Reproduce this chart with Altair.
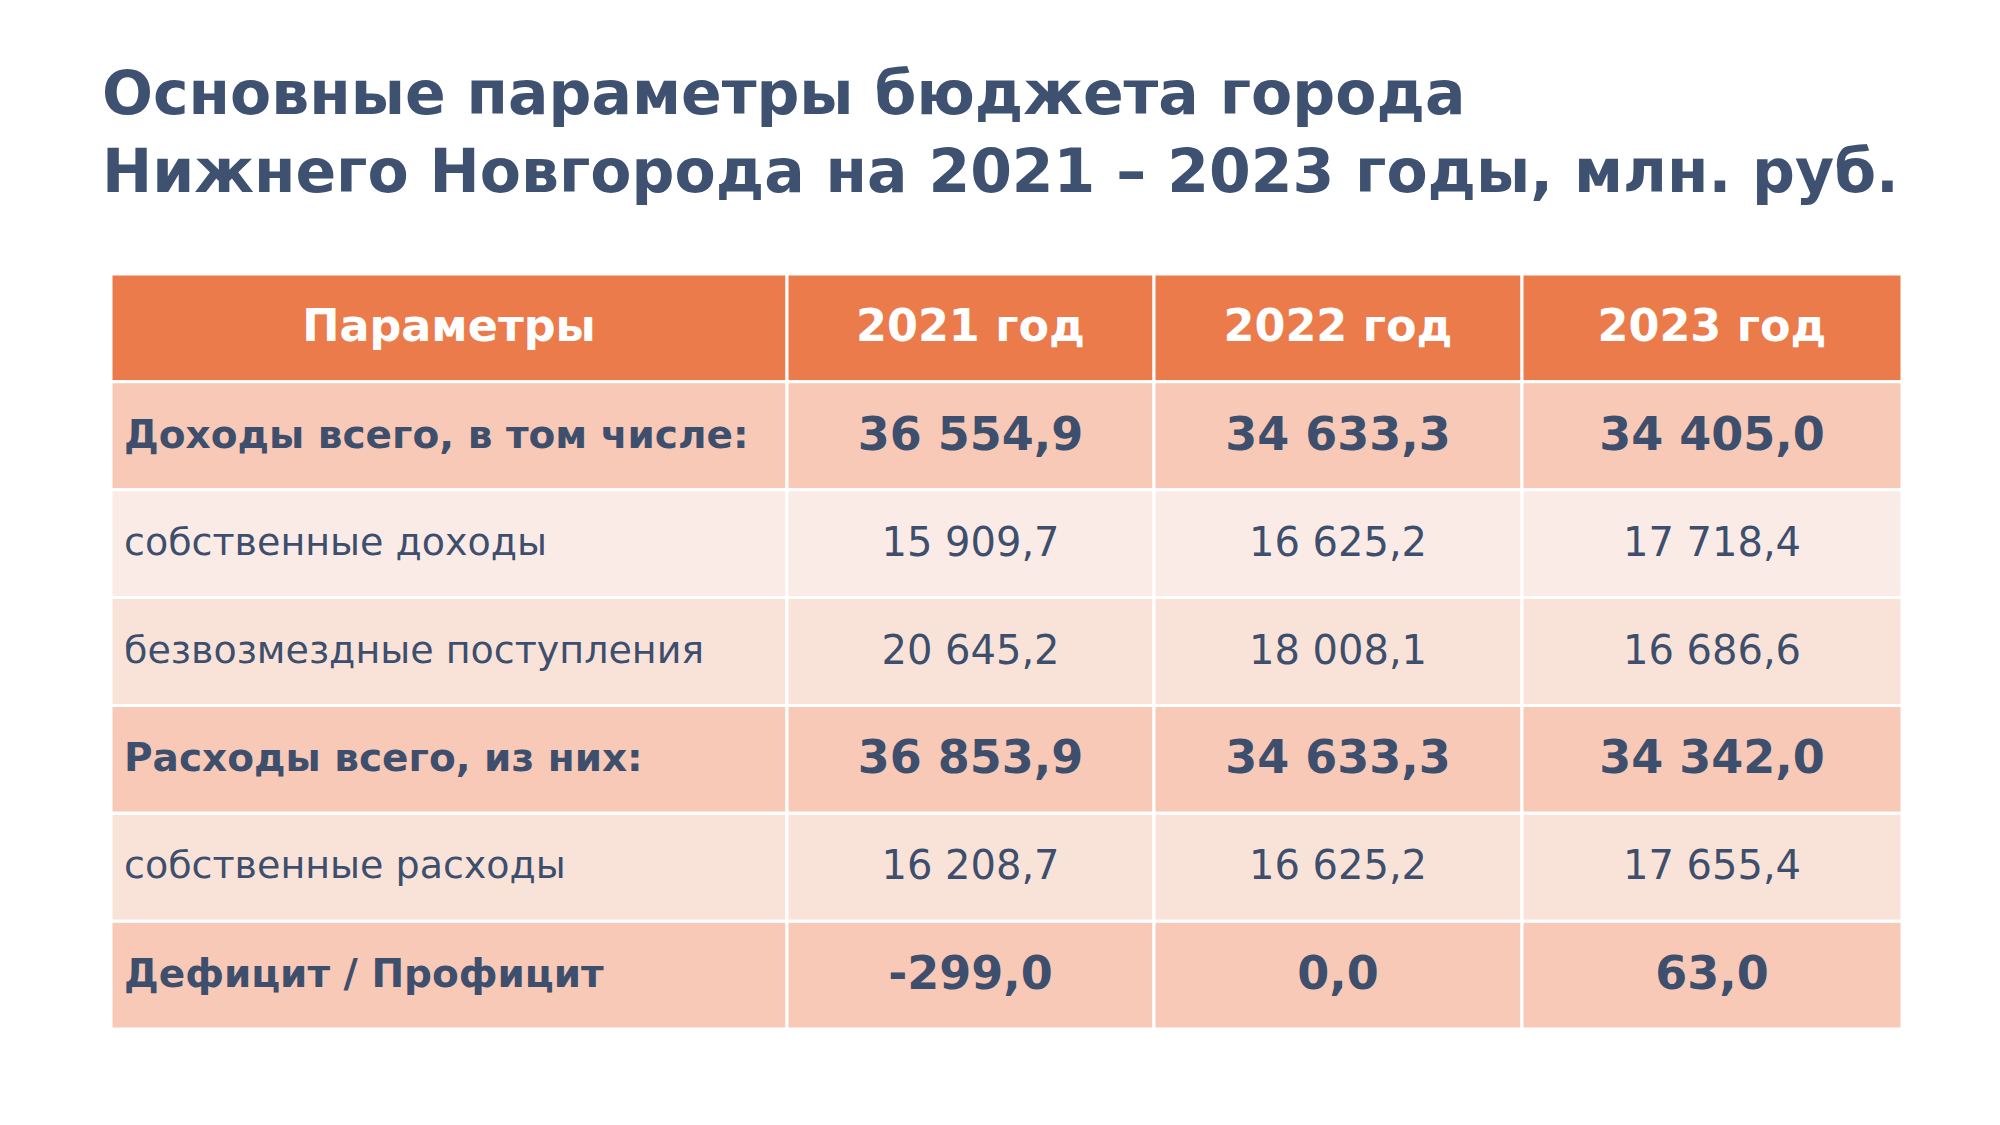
import altair as alt
import pandas as pd

# ---------------- data ----------------
title_lines = [
    "Основные параметры бюджета города",
    "Нижнего Новгорода на 2021 – 2023 годы, млн. руб.",
]
header = ["Параметры", "2021 год", "2022 год", "2023 год"]
row_labels = [
    "Доходы всего, в том числе:",
    "собственные доходы",
    "безвозмездные поступления",
    "Расходы всего, из них:",
    "собственные расходы",
    "Дефицит / Профицит",
]
row_kinds = ["total", "sub_a", "sub_b", "total", "sub_b", "total"]
values_2021 = [36554.9, 15909.7, 20645.2, 36853.9, 16208.7, -299.0]
values_2022 = [34633.3, 16625.2, 18008.1, 34633.3, 16625.2, 0.0]
values_2023 = [34405.0, 17718.4, 16686.6, 34342.0, 17655.4, 63.0]

# ---------------- layout / style ----------------
col_edges = [0, 676, 1043, 1411, 1791]   # column boundaries in plot units
label_indent = 13
W, H = 1791, 755
DARK = "#3D4F6D"
FONT = "DejaVu Sans"


def fmt(v):
    s = f"{abs(v):,.1f}".replace(",", " ").replace(".", ",")
    return ("-" if v < 0 else "") + s


row_ids = ["h"] + [f"r{i}" for i in range(len(row_labels))]
year_values = [values_2021, values_2022, values_2023]

cells = []
for c, name in enumerate(header):
    cells.append(dict(rid="h", kind="header", x0=col_edges[c], x1=col_edges[c + 1],
                      xc=(col_edges[c] + col_edges[c + 1]) / 2, text=name))
for i, (lab, kind) in enumerate(zip(row_labels, row_kinds)):
    rid = f"r{i}"
    cells.append(dict(rid=rid, kind=kind, x0=col_edges[0], x1=col_edges[1],
                      xc=col_edges[0] + label_indent, text=lab, role="label"))
    for c, vals in enumerate(year_values, start=1):
        cells.append(dict(rid=rid, kind=kind, x0=col_edges[c], x1=col_edges[c + 1],
                          xc=(col_edges[c] + col_edges[c + 1]) / 2, text=fmt(vals[i]), role="value"))
df = pd.DataFrame(cells)
df["role"] = df["role"].fillna("header")

xs = alt.Scale(domain=[0, W], range=[0, W], nice=False, zero=False)
ys = alt.Scale(domain=row_ids, paddingInner=0, paddingOuter=0)
X = alt.X("x0:Q", scale=xs, axis=None)
Y = alt.Y("rid:N", scale=ys, axis=None)

base = alt.Chart(df)

rects = base.mark_rect(stroke="white", strokeWidth=3).encode(
    x=X, x2="x1:Q", y=Y,
    color=alt.Color("kind:N", legend=None,
                    scale=alt.Scale(domain=["header", "total", "sub_a", "sub_b"],
                                    range=["#EB7B4A", "#F7C9B6", "#FBEBE7", "#F9E3D9"])),
)


def text_layer(filt, align, size, weight, color):
    return base.transform_filter(filt).mark_text(
        align=align, baseline="middle", font=FONT, fontSize=size, fontWeight=weight, color=color
    ).encode(x=alt.X("xc:Q", scale=xs, axis=None), y=Y, text="text:N")


header_txt = text_layer("datum.role == 'header'", "center", 44.5, "bold", "white")
tot_lab = text_layer("datum.role == 'label' && datum.kind == 'total'", "left", 39, "bold", DARK)
tot_val = text_layer("datum.role == 'value' && datum.kind == 'total'", "center", 46, "bold", DARK)
sub_lab = text_layer("datum.role == 'label' && datum.kind != 'total'", "left", 38, "normal", DARK)
sub_val = text_layer("datum.role == 'value' && datum.kind != 'total'", "center", 40, "normal", DARK)

chart = alt.layer(rects, header_txt, tot_lab, tot_val, sub_lab, sub_val).properties(
    width=W, height=H,
    autosize=alt.AutoSizeParams(type="none"),
    padding={"left": 103, "top": 266, "right": 90, "bottom": 88},
    background="#FFFFFF",
    title=alt.TitleParams(
        text=title_lines, anchor="start", frame="group", font=FONT, fontSize=60,
        fontWeight="bold", color="#3F5170", lineHeight=78, baseline="alphabetic",
        offset=21, dx=-9,
    ),
).configure_view(stroke=None)

chart.save("out.html", embed_options={"renderer": "svg", "actions": False})
